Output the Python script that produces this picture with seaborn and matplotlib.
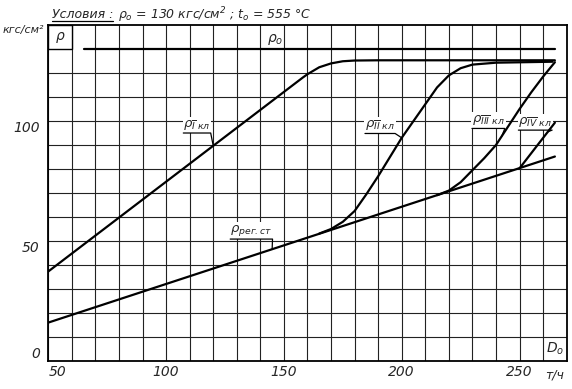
import numpy as np
import matplotlib
matplotlib.use('Agg')
import matplotlib.pyplot as plt
import seaborn as sns
from matplotlib.patches import Rectangle

# values (D0, t/h -> p, kgf/cm2)
x_reg = [50, 265]
p_reg = [16.0, 85.2]

x_1 = [50, 158, 160, 165, 170, 175, 180, 190, 265]
p_1 = [37.3, 118.1, 119.5, 122.4, 124.0, 124.9, 125.2, 125.3, 125.3]

x_2 = [165, 170, 175, 180, 185, 190, 195, 200, 205, 210, 215, 220, 225, 230, 240, 264]
p_2 = [53.1, 55.0, 58.0, 62.5, 69.5, 77.0, 85.0, 93.0, 100.0, 107.0, 114.0, 119.0, 122.0, 123.5, 124.3, 124.7]

x_3 = [215, 220, 225, 230, 235, 240, 245, 250, 255, 260, 265]
p_3 = [69.1, 71.0, 74.5, 79.5, 84.5, 90.0, 97.5, 105.0, 112.0, 118.5, 124.5]

x_4 = [250, 265]
p_4 = [80.3, 99.3]

x_0 = [65, 265]
p_0 = [130, 130]

x_ticks = [50, 100, 150, 200, 250]
y_ticks = [0, 50, 100]

sns.set_style('white')
plt.rcParams['font.family'] = ['DejaVu Sans']
plt.rcParams['font.style'] = 'italic'
plt.rcParams['mathtext.fontset'] = 'dejavusans'
plt.rcParams['mathtext.default'] = 'it'

fig = plt.figure(figsize=(5.72, 3.89), dpi=100)
ax = fig.add_axes([0.0844, 0.072, 0.9063, 0.8637])

lw = 1.6
for xs, ps in [(x_reg, p_reg), (x_1, p_1), (x_2, p_2), (x_3, p_3), (x_4, p_4), (x_0, p_0)]:
    sns.lineplot(x=xs, y=ps, ax=ax, color='k', lw=lw, sort=False,
                 estimator=None, zorder=4)

ax.set_xlim(50, 270)
ax.set_ylim(0, 140)
ax.set_xticks(x_ticks)
ax.set_yticks(y_ticks)
ax.set_xticks(np.arange(60, 270, 10), minor=True)
ax.set_yticks(np.arange(10, 130, 10), minor=True)
ax.grid(which='both', color='#222222', lw=0.8)
ax.tick_params(which='both', length=0, labelsize=10)
ax.tick_params(axis='x', pad=3)
ax.tick_params(axis='y', pad=6)
for s in ax.spines.values():
    s.set_color('k')
    s.set_linewidth(1.3)

xl = ax.get_xticklabels()
xl[0].set_ha('left')
yl = ax.get_yticklabels()
yl[0].set_va('bottom')
yl[1].set_va('top')
yl[2].set_va('top')

# box with p in top-left cell
ax.add_patch(Rectangle((50, 130), 10, 10, fc='white', ec='k', lw=1.0, zorder=3))
ax.text(55, 135, r'$\rho$', ha='center', va='center', fontsize=10, zorder=5)
ax.text(143, 131, r'$\rho_o$', ha='left', va='bottom', fontsize=10, zorder=5)
ax.text(265, 5, r'$D_o$', ha='center', va='center', fontsize=10, zorder=5)

ax.text(-0.008, 0.985, 'кгс/см²', transform=ax.transAxes, ha='right',
        va='center', fontsize=8)
ax.text(0.977, -0.042, 'т/ч', transform=ax.transAxes, ha='center',
        va='center', fontsize=9)
t_cond = ax.text(0.007, 1.03, 'Условия :', transform=ax.transAxes, ha='left',
                 va='center', fontsize=9)
ax.text(0.135, 1.03, r'$\rho_o$ = 130 кгс/см$^2$ ; $t_o$ = 555 °C',
        transform=ax.transAxes, ha='left', va='center', fontsize=9)

# curve labels: text, anchor, point on curve for the leader
labels = [
    (r'$\rho_{\overline{\mathrm{I}}\ кл}$', 107.3, 95.5, 120, np.interp(120, x_1, p_1)),
    (r'$\rho_{рег.ст}$', 127.2, 51.3, 145, np.interp(145, x_reg, p_reg)),
    (r'$\rho_{\overline{\mathrm{II}}\ кл}$', 184.4, 95.3, 200, np.interp(200, x_2, p_2)),
    (r'$\rho_{\overline{\mathrm{III}}\ кл}$', 229.8, 97.4, 242.5, np.interp(242.5, x_3, p_3)),
    (r'$\rho_{\overline{\mathrm{IV}}\ кл}$', 249.5, 96.7, 262, np.interp(262, x_4, p_4)),
]
texts = []
for txt, tx, ty, cx, cy in labels:
    t = ax.text(tx, ty, txt, ha='left', va='bottom', fontsize=9.5, zorder=3,
                bbox=dict(fc='white', ec='none', pad=0.6))
    texts.append((t, cx, cy))

fig.canvas.draw()
r = fig.canvas.get_renderer()
inv = ax.transData.inverted()
for t, cx, cy in texts:
    bb = t.get_window_extent(r).transformed(inv)
    y0 = bb.y0 - 0.5
    ax.plot([bb.x0, bb.x1, cx], [y0, y0, cy], color='k', lw=0.9, zorder=5)

bb = t_cond.get_window_extent(r).transformed(ax.transAxes.inverted())
ax.plot([bb.x0, bb.x1], [bb.y0, bb.y0], transform=ax.transAxes, color='k',
        lw=0.9, clip_on=False)

fig.savefig('out.png', dpi=100)
